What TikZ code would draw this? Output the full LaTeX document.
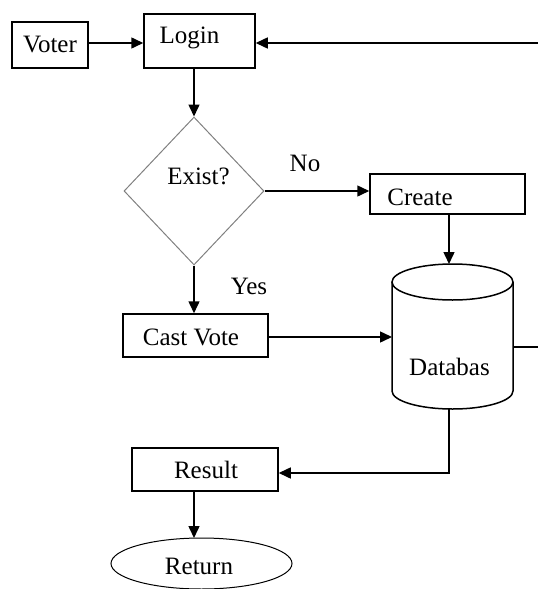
\documentclass[tikz,border=0pt]{standalone}
\usepackage{fontspec}
\setmainfont{Liberation Serif}
\usetikzlibrary{arrows.meta,shapes.geometric}
\begin{document}
\begin{tikzpicture}[x=1pt,y=-1pt,
  font=\fontsize{25}{29}\selectfont,
  line width=1.5pt,
  arr/.style={-{Triangle[length=12pt,width=11pt]}},
  box/.style={draw,rectangle,inner sep=0pt,line width=1.5pt},
  txt/.style={inner sep=0pt,anchor=center}]
\useasboundingbox (0,0) rectangle (538,589);
% boxes
\node[box,minimum width=76pt,minimum height=46pt] (voter) at (50,45) {};
\node[txt] (voterT) at (50,45) {Voter};
\node[box,minimum width=111pt,minimum height=54pt] (login) at (199.5,41) {};
\node[txt] (loginT) at (189.5,38) {Login};
\node[draw=gray,line width=1pt,diamond,minimum width=140pt,minimum height=148pt,inner sep=0pt] (exist) at (194,191) {};
\node[txt] (existT) at (198.5,176) {Exist?};
\node[txt] (no) at (305,163) {No};
\node[txt] (yes) at (249,286) {Yes};
\node[box,minimum width=155pt,minimum height=40pt] (create) at (447.5,194) {};
\node[txt] (createT) at (420,197) {Create};
\node[box,minimum width=145pt,minimum height=43pt] (cast) at (195.5,335.5) {};
\node[txt] (castT) at (191,337) {Cast Vote};
\node[box,minimum width=146pt,minimum height=43pt] (result) at (205,469.5) {};
\node[txt] (resultT) at (206,470) {Result};
\node[draw,ellipse,line width=1pt,minimum width=181pt,minimum height=51pt,inner sep=0pt] (ret) at (201.5,563.5) {};
\node[txt] (retT) at (199,566) {Return};
% database cylinder
\draw (392,282) -- (392,391) arc[start angle=180,end angle=0,x radius=60.5,y radius=18] -- (513,282);
\draw (452.5,282) ellipse[x radius=60.5,y radius=18];
\node[txt] (dbT) at (449.5,367) {Databas};
\coordinate (dbtop) at (449,264);
\coordinate (dbleft) at (392,337);
\coordinate (dbright) at (513,347);
\coordinate (dbbot) at (449,409);
\coordinate (rEdgeA) at (538,43);
\coordinate (rEdgeB) at (538,347);
\coordinate (retTop) at (194,538);
% connectors
\draw[arr] (voter.east |- 0,43) -- (login.west |- 0,43);
\draw[arr] (rEdgeA) -- (login.east |- rEdgeA);
\draw[arr] (exist.north |- login.south) -- (exist.north);
\draw[arr] (exist.east) -- (create.west |- exist.east);
\draw[arr] (dbtop |- create.south) -- (dbtop);
\draw[arr] (exist.south) -- (exist.south |- cast.north);
\draw[arr] (cast.east |- dbleft) -- (dbleft);
\draw (dbright) -- (rEdgeB);
\draw[arr] (dbbot) -- (449,473) -- (result.east |- 0,473);
\draw[arr] (retTop |- result.south) -- (retTop);
\end{tikzpicture}
\end{document}
